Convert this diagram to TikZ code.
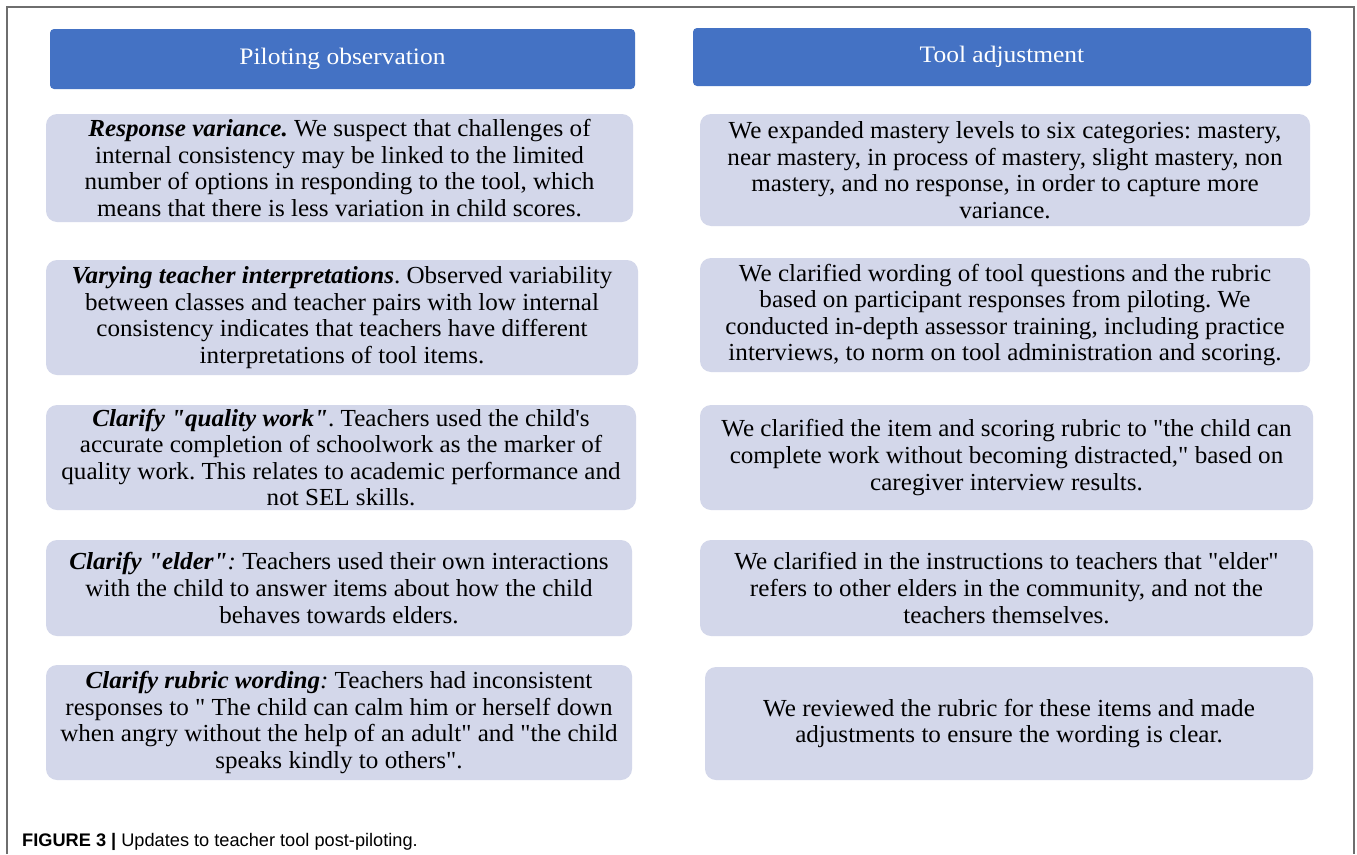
\documentclass[tikz,border=0pt]{standalone}
\usepackage{fontspec}
\newfontfamily\bodyfont{Liberation Serif}[FakeStretch=1.025]
\newfontfamily\headfont{Liberation Serif}[FakeStretch=1.08]
\newfontfamily\capfont{Liberation Sans}
\definecolor{headblue}{HTML}{4472C4}
\definecolor{cellfill}{HTML}{D3D7EA}
\definecolor{framegray}{HTML}{6E6E6E}
\frenchspacing
\begin{document}
\begin{tikzpicture}[x=1pt,y=-1pt,
  header/.style={fill=headblue, rounded corners=4pt, text=white, inner sep=0pt,
    font=\headfont\fontsize{23.6}{26}\selectfont},
  cell/.style={fill=cellfill, rounded corners=11pt, inner sep=0pt, align=center,
    font=\bodyfont\fontsize{24.5}{26.6}\selectfont},
  frameline/.style={draw=framegray, line width=1.5pt}]
\useasboundingbox (0,0) rectangle (1357,854);
\fill[white] (0,0) rectangle (1357,854);
% outer frame (open at the bottom)
\coordinate (fbl) at (7,854);
\coordinate (ftl) at (7,7);
\coordinate (ftr) at (1354,7);
\coordinate (fbr) at (1354,854);
\draw[frameline] (fbl) -- (ftl) -- (ftr) -- (fbr);

% column headers
\node[header, minimum width=585pt, minimum height=60pt] (hl) at (342.5,59) {Piloting observation};
\node[header, minimum width=618pt, minimum height=58pt] (hr) at (1002,57) {Tool adjustment};

% left column: observations
\node[cell, minimum width=587pt, minimum height=108pt] (l1) at (339.5,168)
  {\textbf{\textit{Response variance.}} We suspect that challenges of\\
   internal consistency may be linked to the limited\\
   number of options in responding to the tool, which\\
   means that there is less variation in child scores.};
\node[cell, minimum width=592pt, minimum height=115pt] (l2) at (342,317.5)
  {\textbf{\textit{Varying teacher interpretations}}. Observed variability\\
   between classes and teacher pairs with low internal\\
   consistency indicates that teachers have different\\
   interpretations of tool items.};
\node[cell, minimum width=590pt, minimum height=105pt] (l3) at (341,457.5)
  {\textbf{\textit{Clarify "quality work"}}. Teachers used the child's\\
   accurate completion of schoolwork as the marker of\\
   quality work. This relates to academic performance and\\
   not SEL skills.};
\node[cell, minimum width=586pt, minimum height=96pt] (l4) at (339,588)
  {\textbf{\textit{Clarify "elder"}}\textit{:} Teachers used their own interactions\\
   with the child to answer items about how the child\\
   behaves towards elders.};
\node[cell, minimum width=586pt, minimum height=115pt] (l5) at (339,722.5)
  {\textbf{\textit{Clarify rubric wording}}\textit{:} Teachers had inconsistent\\
   responses to " The child can calm him or herself down\\
   when angry without the help of an adult" and "the child\\
   speaks kindly to others".};

% right column: adjustments
\node[cell, minimum width=610pt, minimum height=112pt] (r1) at (1005,170)
  {We expanded mastery levels to six categories: mastery,\\
   near mastery, in process of mastery, slight mastery, non\\
   mastery, and no response, in order to capture more\\
   variance.};
\node[cell, minimum width=610pt, minimum height=114pt] (r2) at (1005,315)
  {We clarified wording of tool questions and the rubric\\
   based on participant responses from piloting. We\\
   conducted in-depth assessor training, including practice\\
   interviews, to norm on tool administration and scoring.};
\node[cell, minimum width=613pt, minimum height=105pt] (r3) at (1006.5,457.5)
  {We clarified the item and scoring rubric to "the child can\\
   complete work without becoming distracted," based on\\
   caregiver interview results.};
\node[cell, minimum width=613pt, minimum height=96pt] (r4) at (1006.5,588)
  {We clarified in the instructions to teachers that "elder"\\
   refers to other elders in the community, and not the\\
   teachers themselves.};
\node[cell, minimum width=608pt, minimum height=113pt] (r5) at (1009,723.5)
  {We reviewed the rubric for these items and made\\
   adjustments to ensure the wording is clear.};

% caption
\node[anchor=base west, inner sep=0pt, font=\capfont\fontsize{18.2}{21}\selectfont] (cap) at (22,846)
  {\textbf{FIGURE 3 |} Updates to teacher tool post-piloting.};
\end{tikzpicture}
\end{document}
